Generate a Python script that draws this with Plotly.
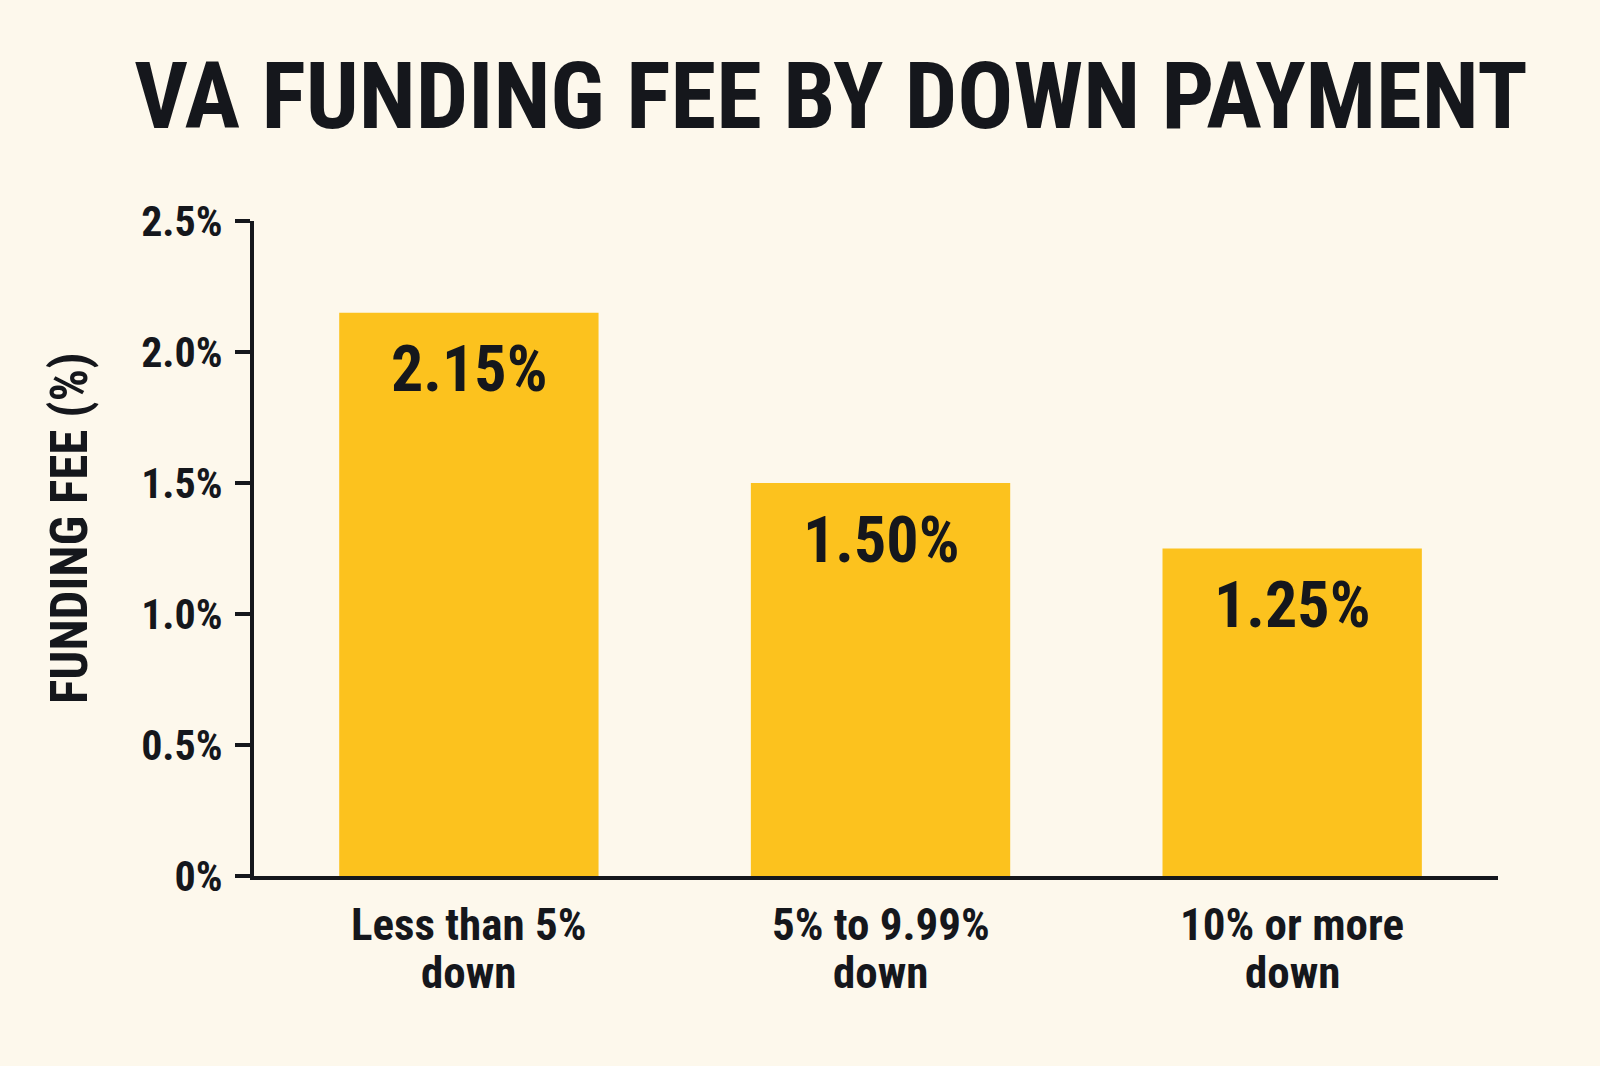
import plotly.graph_objects as go

categories = ["Less than 5%<br>down", "5% to 9.99%<br>down", "10% or more<br>down"]
fees = [2.15, 1.50, 1.25]
fee_labels = ["2.15%", "1.50%", "1.25%"]
tick_vals = [0, 0.5, 1.0, 1.5, 2.0, 2.5]
tick_text = ["0%", "0.5%", "1.0%", "1.5%", "2.0%", "2.5%"]

FONT = "Roboto Condensed, Roboto, Liberation Sans, sans-serif"
INK = "#15171c"
BG = "#fdf8ec"
BAR = "#fcc21e"

# plot area in pixels
PLOT_LEFT, PLOT_RIGHT = 254, 1498
PLOT_TOP, PLOT_BOT = 221, 876
def py(ypix):
    return (PLOT_BOT - ypix) / (PLOT_BOT - PLOT_TOP)
def px(xpix):
    return (xpix - PLOT_LEFT) / (PLOT_RIGHT - PLOT_LEFT)

fig = go.Figure()
fig.add_trace(go.Bar(
    x=list(range(len(categories))),
    y=fees,
    width=0.63,
    marker=dict(color=BAR, line=dict(width=0)),
    hoverinfo="skip",
))

for i, (v, t) in enumerate(zip(fees, fee_labels)):
    fig.add_annotation(
        x=i, y=v, xref="x", yref="y",
        text="<b>" + t + "</b>", showarrow=False,
        yanchor="middle", yshift=-57,
        font=dict(family=FONT, size=64, color=INK),
    )

# category labels (two lines each, tight line spacing)
for i, c in enumerate(categories):
    for j, part in enumerate(c.split("<br>")):
        fig.add_annotation(
            x=i, xref="x", yref="paper", y=py(924 + j * 48),
            text="<b>" + part + "</b>", showarrow=False,
            xanchor="center", yanchor="middle",
            font=dict(family=FONT, size=45, color=INK),
        )

fig.add_annotation(
    text="<b>FUNDING FEE (%)</b>", textangle=-90,
    xref="paper", yref="paper", x=px(69), y=py(528),
    xanchor="center", yanchor="middle", showarrow=False,
    font=dict(family=FONT, size=51, color=INK),
)

fig.update_layout(
    width=1600, height=1066,
    margin=dict(l=PLOT_LEFT, r=1600 - PLOT_RIGHT, t=PLOT_TOP, b=1066 - PLOT_BOT),
    paper_bgcolor=BG, plot_bgcolor=BG,
    showlegend=False,
    title=dict(
        text="<b>VA FUNDING FEE BY DOWN PAYMENT</b>",
        x=831 / 1600, xanchor="center", xref="container",
        y=1 - 95 / 1066, yanchor="middle", yref="container",
        font=dict(family=FONT, size=93, color=INK),
    ),
    font=dict(family=FONT, color=INK),
)

fig.update_xaxes(
    range=[-0.522, 2.5],
    showticklabels=False,
    showgrid=False, zeroline=False,
    showline=True, linecolor=INK, linewidth=4,
    ticks="",
    fixedrange=True,
)
fig.update_yaxes(
    range=[0, 2.5],
    tickmode="array", tickvals=tick_vals, ticktext=["<b>" + t + "</b>" for t in tick_text],
    showgrid=False, zeroline=False,
    showline=True, linecolor=INK, linewidth=4,
    ticks="outside", ticklen=15, tickwidth=4, tickcolor=INK,
    ticklabelstandoff=4,
    tickfont=dict(family=FONT, size=42, color=INK),
    fixedrange=True,
)

fig.write_html("out.html")
